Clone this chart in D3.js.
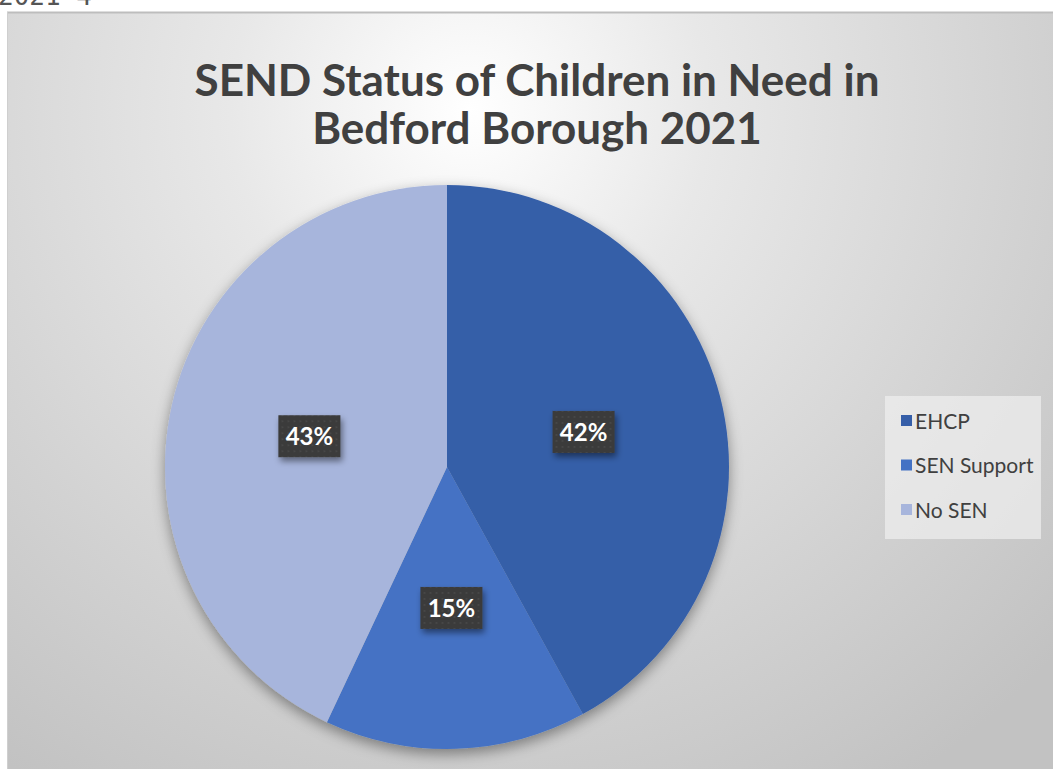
<!DOCTYPE html>
<html><head><meta charset="utf-8">
<script src="https://cdn.jsdelivr.net/npm/d3@7"></script>
<style>html,body{margin:0;padding:0;background:#fff;overflow:hidden}</style>
</head><body>
<svg id="c" width="1053" height="769"></svg>
<script>
const categories = ["EHCP", "SEN Support", "No SEN"];
const values = [42, 15, 43];
const colors = ["#355ea8", "#4472c4", "#a7b5dc"];
const titleLines = ["SEND Status of Children in Need in", "Bedford Borough 2021"];

const svg = d3.select("#c");
const defs = svg.append("defs");
const rg = defs.append("radialGradient").attr("id","bg").attr("gradientUnits","userSpaceOnUse")
  .attr("cx",470).attr("cy",110).attr("r",800);
rg.append("stop").attr("offset","0%").attr("stop-color","#ffffff");
rg.append("stop").attr("offset","30%").attr("stop-color","#e8e8e8");
rg.append("stop").attr("offset","70%").attr("stop-color","#d2d2d2");
rg.append("stop").attr("offset","100%").attr("stop-color","#c2c2c2");
const sh = defs.append("filter").attr("id","sh").attr("x","-20%").attr("y","-20%").attr("width","140%").attr("height","140%");
sh.append("feDropShadow").attr("dx",0).attr("dy",5).attr("stdDeviation",7).attr("flood-color","#000").attr("flood-opacity",0.4);
const sh2 = defs.append("filter").attr("id","sh2").attr("x","-30%").attr("y","-30%").attr("width","160%").attr("height","170%");
sh2.append("feDropShadow").attr("dx",2).attr("dy",4).attr("stdDeviation",3).attr("flood-color","#000").attr("flood-opacity",0.45);
const pat = defs.append("pattern").attr("id","dots").attr("width",6).attr("height",6).attr("patternUnits","userSpaceOnUse");
pat.append("rect").attr("width",6).attr("height",6).attr("fill","#3a3a3a");
pat.append("circle").attr("cx",3).attr("cy",3).attr("r",0.9).attr("fill","#4c4c4c");

// stray text at top
svg.append("text").attr("x",-2).attr("y",5).attr("font-family","DejaVu Sans Mono").attr("font-size",26)
  .attr("fill","#555").text("2021 4");

// chart area
svg.append("rect").attr("x",7).attr("y",12).attr("width",1060).attr("height",770).attr("fill","url(#bg)");
svg.append("line").attr("x1",7).attr("x2",1053).attr("y1",12.5).attr("y2",12.5).attr("stroke","#bdbdbd").attr("stroke-width",2);
svg.append("line").attr("x1",7.5).attr("x2",7.5).attr("y1",12).attr("y2",769).attr("stroke","#cfcfcf").attr("stroke-width",1);

// title
titleLines.forEach((t,i)=>svg.append("text").attr("text-anchor","middle").attr("font-family","Lato").attr("font-weight","bold")
  .attr("font-size",44).attr("fill","#404040").attr("x",537).attr("y",96+i*48).text(t));

// pie
const cx = 447, cy = 467, R = 282;
const pie = d3.pie().sort(null).value(d=>d);
const arcs = pie(values);
const arc = d3.arc().innerRadius(0).outerRadius(R);
const g = svg.append("g").attr("transform",`translate(${cx},${cy})`);
g.append("g").attr("filter","url(#sh)").selectAll("path").data(arcs).join("path")
  .attr("d",arc).attr("fill",(d,i)=>colors[i]);

// labels
const labelArc = d3.arc().innerRadius(R*0.5).outerRadius(R*0.5);
const lg = g.selectAll("g.lbl").data(arcs).join("g").attr("class","lbl")
  .attr("transform",d=>{const c=labelArc.centroid(d);return `translate(${c[0]},${c[1]})`;});
lg.append("rect").attr("x",-31).attr("y",-21).attr("width",62).attr("height",42)
  .attr("fill","url(#dots)").attr("filter","url(#sh2)");
lg.append("text").attr("text-anchor","middle").attr("dy","0.36em").attr("font-family","Lato").attr("font-weight","bold")
  .attr("font-size",24).attr("fill","#ffffff").text((d,i)=>values[i]+"%");

// legend
const leg = svg.append("g");
leg.append("rect").attr("x",885).attr("y",396).attr("width",156).attr("height",143).attr("fill","#efefef").attr("opacity",0.7);
const items = leg.selectAll("g.it").data(categories).join("g").attr("class","it")
  .attr("transform",(d,i)=>`translate(901,${421+i*44.5})`);
items.append("rect").attr("x",0).attr("y",-6).attr("width",11).attr("height",11).attr("fill",(d,i)=>colors[i]);
items.append("text").attr("x",14).attr("y",0).attr("dy","0.36em").attr("font-family","Lato").attr("font-size",21)
  .attr("fill","#404040").text(d=>d);
</script>
</body></html>
